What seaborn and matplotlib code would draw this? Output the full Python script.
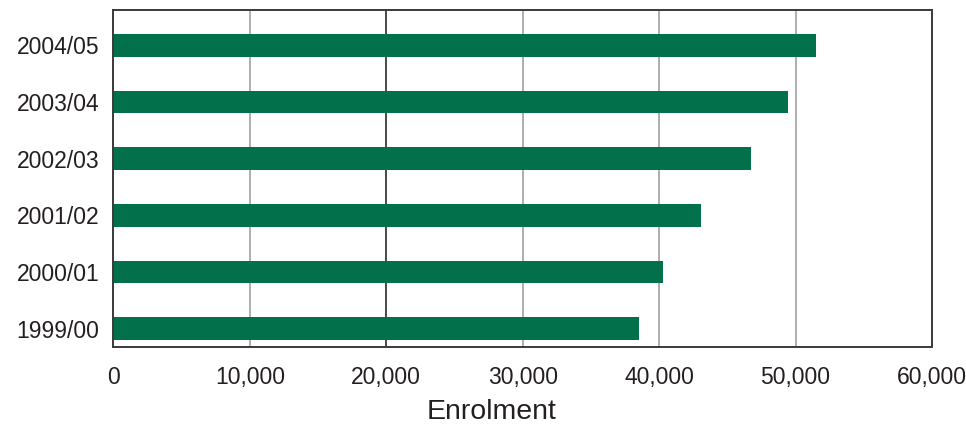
import matplotlib
matplotlib.use("Agg")
import matplotlib.pyplot as plt
import seaborn as sns
import pandas as pd
from matplotlib.ticker import FuncFormatter, FixedLocator

years = ["2004/05", "2003/04", "2002/03", "2001/02", "2000/01", "1999/00"]
enrolment = [51500, 49450, 46700, 43100, 40250, 38550]
x_ticks = [0, 10000, 20000, 30000, 40000, 50000, 60000]

sns.set_theme(style="white")
plt.rcParams["font.family"] = ["Liberation Sans", "DejaVu Sans"]

df = pd.DataFrame({"year": years, "enrolment": enrolment})

fig = plt.figure(figsize=(9.66, 4.24), dpi=100)
ax = fig.add_axes([0.1173, 0.1823, 0.8475, 0.7941])

sns.barplot(data=df, x="enrolment", y="year", order=years, orient="h",
            color="#02704A", saturation=1, width=0.4, ax=ax, linewidth=0)

ax.set_xlim(0, 60000)
ax.set_ylim(5.317, -0.62)
ax.xaxis.set_major_locator(FixedLocator(x_ticks))
ax.xaxis.set_major_formatter(FuncFormatter(lambda v, p: f"{int(v):,}"))

ax.set_axisbelow(True)
ax.xaxis.grid(True, color="#a8a8a8", linewidth=1.3)
ax.yaxis.grid(False)
for tick_val, gl in zip(x_ticks, ax.get_xgridlines()):
    if tick_val == 20000:
        gl.set_color("#3a3a3a")

for s in ax.spines.values():
    s.set_visible(True)
    s.set_color("#3a3a3a")
    s.set_linewidth(1.4)

ax.tick_params(axis="x", length=0, pad=14, labelsize=16.5, labelcolor="#231f20")
ax.tick_params(axis="y", length=0, pad=10, labelsize=16.5, labelcolor="#231f20")
ax.set_ylabel("")
ax.set_xlabel("Enrolment", fontsize=20.5, color="#231f20")
ax.xaxis.set_label_coords(0.4626, -0.193)
ax.xaxis.label.set_va("center")

fig.savefig("out.png", dpi=100, facecolor="white")
